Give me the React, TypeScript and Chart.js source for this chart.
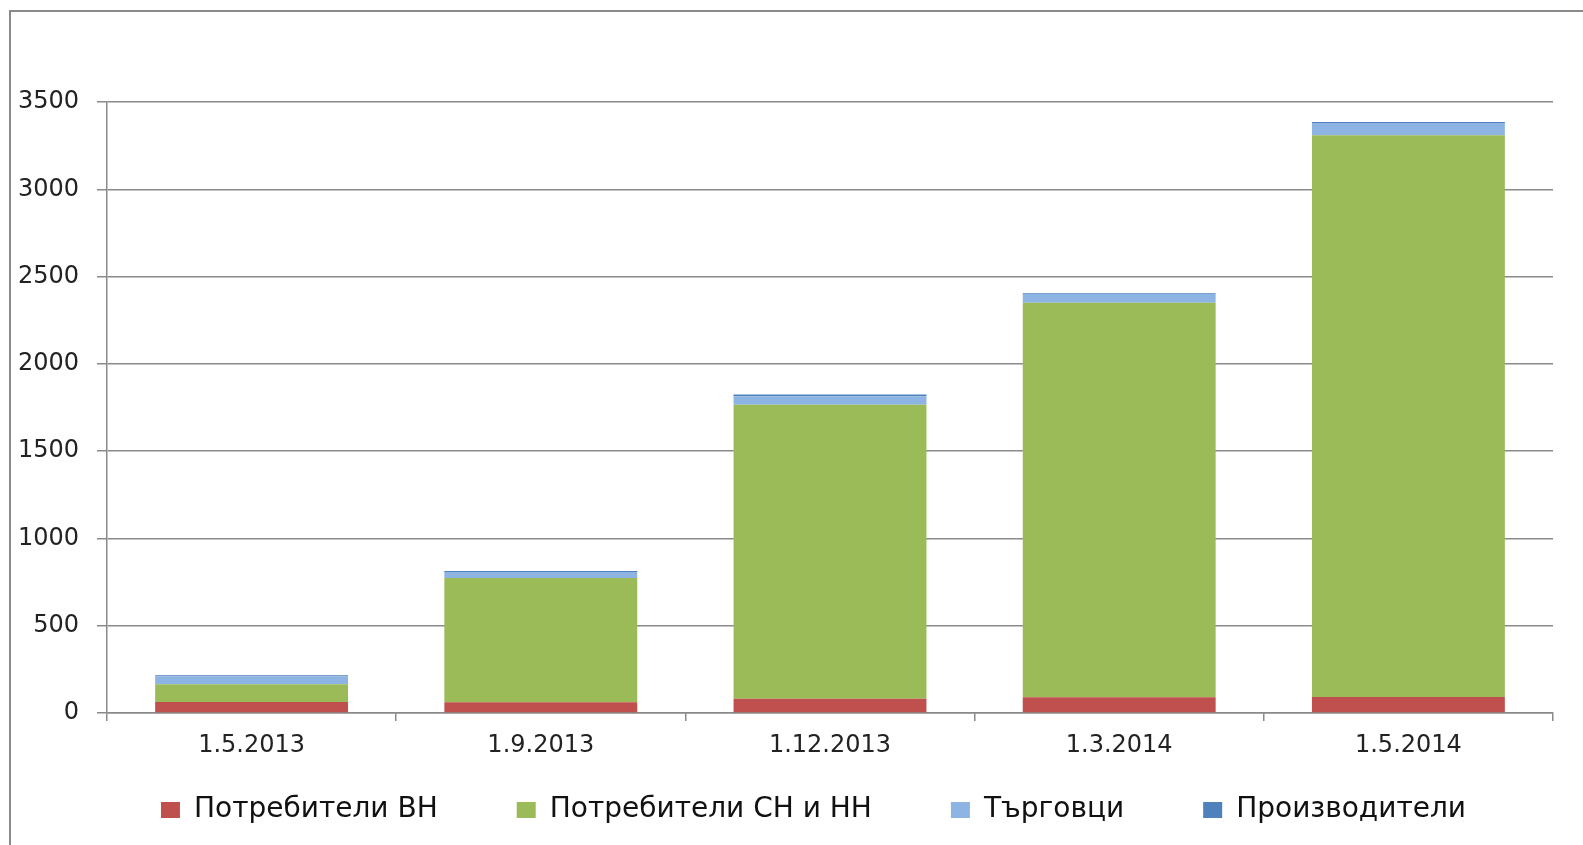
import React, { useEffect, useRef } from "react";
import { Chart, registerables } from "chart.js";

Chart.register(...registerables);

const categories = ["1.5.2013", "1.9.2013", "1.12.2013", "1.3.2014", "1.5.2014"];
const seriesNames = ["Потребители ВН", "Потребители СН и НН", "Търговци", "Производители"];
const consumersHV = [63, 61, 82, 90, 92];
const consumersMVLV = [101, 712, 1684, 2260, 3217];
const traders = [47, 35, 48, 50, 70];
const producers = [5, 5, 10, 5, 6];
const colors = ["#C0504D", "#9BBB59", "#8DB4E2", "#4F81BD"];

const LEGEND_FONT = 28;
const LEGEND_GAP = 79;

const framePlugin = {
  id: "frame",
  beforeDraw(chart: any) {
    const ctx = chart.ctx;
    ctx.save();
    ctx.strokeStyle = "#8a8a8a";
    ctx.lineWidth = 2;
    ctx.beginPath();
    ctx.moveTo(10, 845);
    ctx.lineTo(10, 11);
    ctx.lineTo(1583, 11);
    ctx.stroke();
    ctx.restore();
  },
};

// place the legend row ~97px below the x axis line, like the reference
const legendPlace = {
  id: "legendPlace",
  afterLayout(chart: any) {
    const lg = chart.legend;
    if (!lg) return;
    const newTop = chart.chartArea.bottom + 97 - LEGEND_GAP - LEGEND_FONT / 2;
    lg.top = newTop;
    lg.bottom = chart.height;
    lg.height = lg.bottom - lg.top;
    lg.left += 32;
    lg.right += 32;
  },
};

export default function App() {
  const ref = useRef<HTMLCanvasElement>(null);
  useEffect(() => {
    document.body.style.margin = "0";
    const series = [consumersHV, consumersMVLV, traders, producers];
    const chart = new Chart(ref.current!, {
      type: "bar",
      data: {
        labels: categories,
        datasets: series.map((d, i) => ({
          label: seriesNames[i],
          data: d,
          backgroundColor: colors[i],
          borderWidth: 0,
          categoryPercentage: 1,
          barPercentage: 0.667,
        })),
      },
      options: {
        animation: false,
        responsive: false,
        maintainAspectRatio: false,
        layout: { padding: { left: 10, right: 30, top: 102, bottom: 36 } },
        plugins: {
          tooltip: { enabled: false },
          legend: {
            position: "bottom",
            maxHeight: 40,
            labels: {
              boxWidth: 19,
              boxHeight: 16,
              padding: LEGEND_GAP,
              color: "#111",
              font: { family: "DejaVu Sans", size: LEGEND_FONT },
            },
          },
        },
        scales: {
          x: {
            stacked: true,
            grid: { offset: true, drawOnChartArea: false, color: "#8a8a8a", tickLength: 8, lineWidth: 1.5 },
            border: { color: "#8a8a8a", width: 1.5 },
            ticks: { color: "#222", font: { family: "DejaVu Sans", size: 24 }, padding: 10 },
            afterFit(scale: any) { scale.height = 56; },
          },
          y: {
            stacked: true,
            min: 0,
            max: 3500,
            ticks: {
              stepSize: 500,
              color: "#222",
              font: { family: "DejaVu Sans", size: 24 },
              padding: 18,
              callback: (v: any) => String(v),
            },
            grid: { color: "#8a8a8a", tickLength: 10, lineWidth: 1.5 },
            border: { color: "#8a8a8a", width: 1.5 },
            afterFit(scale: any) { scale.width = 97; },
          },
        },
      },
      plugins: [framePlugin, legendPlace],
    });
    return () => chart.destroy();
  }, []);
  return (
    <div style={{ position: "absolute", left: 0, top: 0 }}>
      <canvas ref={ref} width={1583} height={845} style={{ display: "block" }} />
    </div>
  );
}
